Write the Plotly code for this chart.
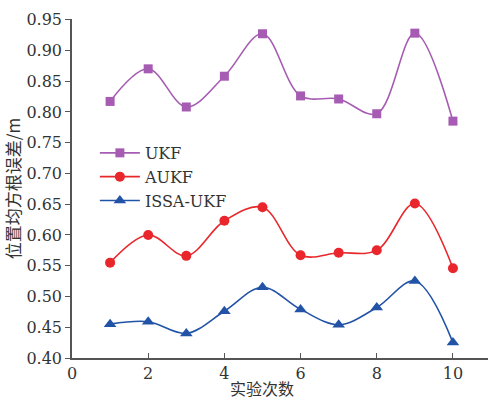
import plotly.graph_objects as go

# Trial number and position RMSE (m) for each filter
trials = [1, 2, 3, 4, 5, 6, 7, 8, 9, 10]
ukf = [0.817, 0.870, 0.808, 0.858, 0.927, 0.826, 0.821, 0.797, 0.928, 0.785]
aukf = [0.555, 0.600, 0.566, 0.623, 0.645, 0.567, 0.571, 0.575, 0.651, 0.546]
issa_ukf = [0.455, 0.459, 0.440, 0.476, 0.515, 0.479, 0.454, 0.482, 0.525, 0.425]

x_ticks = [0, 2, 4, 6, 8, 10]
y_ticks = [0.40, 0.45, 0.50, 0.55, 0.60, 0.65, 0.70, 0.75, 0.80, 0.85, 0.90, 0.95]

SERIF = "DejaVu Serif"
CJK = "Noto Sans CJK SC"
TEXT = "#333333"

series = [
    ("UKF", ukf, "#a65cb2", "square", 9),
    ("AUKF", aukf, "#e8262b", "circle", 10),
    ("ISSA-UKF", issa_ukf, "#2253a6", "triangle-up", 11),
]

fig = go.Figure()
for name, vals, color, symbol, size in series:
    fig.add_trace(go.Scatter(
        x=trials, y=vals, name=name, mode="lines+markers",
        line=dict(color=color, width=1.6, shape="spline", smoothing=1.0),
        marker=dict(color=color, symbol=symbol, size=size),
    ))

fig.update_layout(
    width=488, height=402,
    margin=dict(l=72, r=0, t=19, b=44),
    paper_bgcolor="white", plot_bgcolor="white",
    font=dict(family=SERIF, size=16, color=TEXT),
    showlegend=True,
    legend=dict(
        x=0.055, y=0.655, xanchor="left", yanchor="top",
        bgcolor="rgba(0,0,0,0)", font=dict(family=SERIF, size=16, color=TEXT),
        tracegroupgap=0, itemwidth=40,
    ),
    xaxis=dict(
        range=[0, 10.92], tickvals=x_ticks, ticktext=[str(v) for v in x_ticks],
        tickfont=dict(family=SERIF, size=16, color=TEXT),
        showgrid=False, zeroline=False, showline=True, linecolor="#555555", linewidth=1.5,
        ticks="inside", ticklen=5, tickcolor="#555555",
    ),
    yaxis=dict(
        range=[0.40, 0.951], tickvals=y_ticks, ticktext=[f"{v:.2f}" for v in y_ticks],
        tickfont=dict(family=SERIF, size=16, color=TEXT),
        showgrid=False, zeroline=False, showline=True, linecolor="#555555", linewidth=1.5,
        ticks="outside", ticklen=5, tickcolor="#555555",
        title=dict(text="位置均方根误差/m", font=dict(family=CJK, size=17, color=TEXT), standoff=3),
    ),
    annotations=[dict(
        text="实验次数", x=4.98, y=0, xref="x", yref="paper",
        xanchor="center", yanchor="bottom", yshift=-44, showarrow=False,
        font=dict(family=CJK, size=16, color=TEXT),
    )],
)

fig.write_html("out.html")
